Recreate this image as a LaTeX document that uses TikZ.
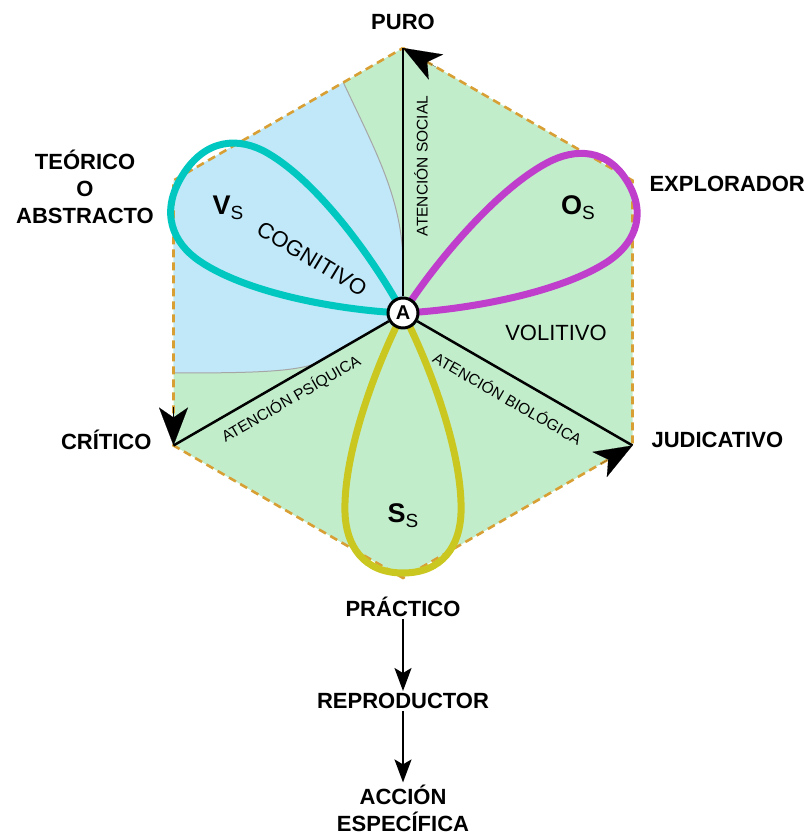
\documentclass[tikz,border=0pt]{standalone}
\usepackage{fontspec}
\setmainfont{Liberation Sans}
\usetikzlibrary{positioning}
\usetikzlibrary{arrows.meta, calc}
\definecolor{nenxanh}{RGB}{194, 237, 203}
\definecolor{nenlam}{RGB}{192, 232, 248}
\definecolor{vien}{RGB}{216, 160, 52}
\definecolor{cyanla}{RGB}{0, 200, 192}
\definecolor{timla}{RGB}{192, 62, 204}
\definecolor{vangla}{RGB}{202, 200, 32}

\begin{document}
\begin{tikzpicture}[x=1pt, y=1pt,
    nhan/.style={font=\fontsize{22}{27}\selectfont\bfseries, align=center},
    chu/.style={font=\fontsize{22}{22}\selectfont},
    chunho/.style={font=\fontsize{15.5}{15.5}\selectfont},
    canh/.style={vien, line width=2.6pt, dash pattern=on 8pt off 5pt},
    la/.style={line width=7pt},
    truc/.style={line width=2.5pt},
    dau/.style={-{Stealth[length=38pt, width=29pt, inset=10pt]}, line width=0.1pt},
    muiten/.style={-{Stealth[length=23pt, width=17pt, inset=5pt]}, line width=2pt}]
    \useasboundingbox (0,0) rectangle (810,834);

    % Tâm và sáu đỉnh của lục giác
    \coordinate (O) at (403,521);
    \foreach \ten/\goc in {T/90, UR/30, LR/-30, B/-90, LL/-150, UL/150}
        \coordinate (\ten) at ($(O)+(\goc:265)$);

    % Nền xanh lá của lục giác
    \fill[nenxanh] (T) -- (UR) -- (LR) -- (B) -- (LL) -- (UL) -- cycle;

    % Vùng xanh lam phía trên bên trái
    \fill[nenlam] ($(T)!0.26!(UL)$) .. controls (375,684) and (403,634) .. (403,569)
        -- (O) -- (315,470) .. controls (290,462) and (250,461) .. (173.5,461)
        -- (UL) -- cycle;
    \draw[gray!70, line width=1pt] ($(T)!0.26!(UL)$) .. controls (375,684) and (403,634) .. (403,569);
    \draw[gray!70, line width=1pt] (315,470) .. controls (290,462) and (250,461) .. (173.5,461);

    % Viền nét đứt
    \draw[canh] (T) -- (UR) -- (LR) -- (B) -- (LL) -- (UL) -- cycle;

    % Ba cánh hoa
    \draw[la, cyanla, shift={(O)}, rotate=148, yscale=1.1] (0,0) .. controls (50,26) and (140,60) .. (200,58)
        .. controls (232,57) and (260,40) .. (260,0) .. controls (260,-40) and (232,-57) .. (200,-58)
        .. controls (140,-60) and (50,-26) .. (0,0);
    \draw[la, timla, shift={(O)}, rotate=30] (0,0) .. controls (50,26) and (140,60) .. (200,58)
        .. controls (232,57) and (260,40) .. (260,0) .. controls (260,-40) and (232,-57) .. (200,-58)
        .. controls (140,-60) and (50,-26) .. (0,0);
    \draw[la, vangla, shift={(O)}, rotate=-90] (0,0) .. controls (50,26) and (140,60) .. (200,58)
        .. controls (232,57) and (260,40) .. (260,0) .. controls (260,-40) and (232,-57) .. (200,-58)
        .. controls (140,-60) and (50,-26) .. (0,0);

    % Nút A ở tâm
    \node[circle, draw, fill=white, line width=3pt, inner sep=0pt, minimum size=30pt,
        font=\fontsize{20}{20}\selectfont\bfseries] (A) at (O) {A};

    % Ba trục từ A
    \draw[truc] (A) -- (T);
    \draw[truc] (A) -- (LL);
    \draw[truc] (A) -- (LR);

    % Mũi tên trên cạnh lục giác
    \draw[dau] ($(T)!38pt!(UR)$) -- (T);
    \draw[dau] ($(LL)!38pt!(UL)$) -- (LL);
    \draw[dau] ($(LR)!38pt!(B)$) -- (LR);

    % Chữ bên trong
    \node (vs) at (228,626) {\fontsize{27}{27}\selectfont\bfseries V\raisebox{-5pt}{\fontsize{19}{19}\selectfont\mdseries S}};
    \node (os) at (578,626) {\fontsize{27}{27}\selectfont\bfseries O\raisebox{-5pt}{\fontsize{19}{19}\selectfont\mdseries S}};
    \node (ss) at (403,318) {\fontsize{27}{27}\selectfont\bfseries S\raisebox{-5pt}{\fontsize{19}{19}\selectfont\mdseries S}};
    \node[chu, rotate=-31] (cognitivo) at (312,575) {COGNITIVO};
    \node[chu] (volitivo) at (556,501) {VOLITIVO};
    \node[chunho, rotate=90] (social) at (421,668) {ATENCIÓN SOCIAL};
    \node[chunho, rotate=30] (psiquica) at (291,435) {ATENCIÓN PSÍQUICA};
    \node[chunho, rotate=-30] (biologica) at (508,436) {ATENCIÓN BIOLÓGICA};

    % Nhãn bên ngoài
    \node[nhan] (puro) at (403,812) {PURO};
    \node[nhan, anchor=west] (explorador) at (646,650) {EXPLORADOR};
    \node[nhan, anchor=west] (judicativo) at (648,394) {JUDICATIVO};
    \node[nhan, anchor=east] (critico) at (155,394) {CRÍTICO};
    \node[nhan] (teorico) at (85,647) {TEÓRICO\\O\\ABSTRACTO};

    % Chuỗi phía dưới
    \node[nhan, inner sep=2pt] (practico) at (403,227) {PRÁCTICO};
    \node[nhan, inner sep=2pt] (reproductor) at (403,133) {REPRODUCTOR};
    \node[nhan, inner sep=2pt] (accion) at (403,26) {ACCIÓN\\ESPECÍFICA};
    \draw[muiten] (practico) -- (reproductor);
    \draw[muiten] (reproductor) -- (accion);
\end{tikzpicture}
\end{document}
